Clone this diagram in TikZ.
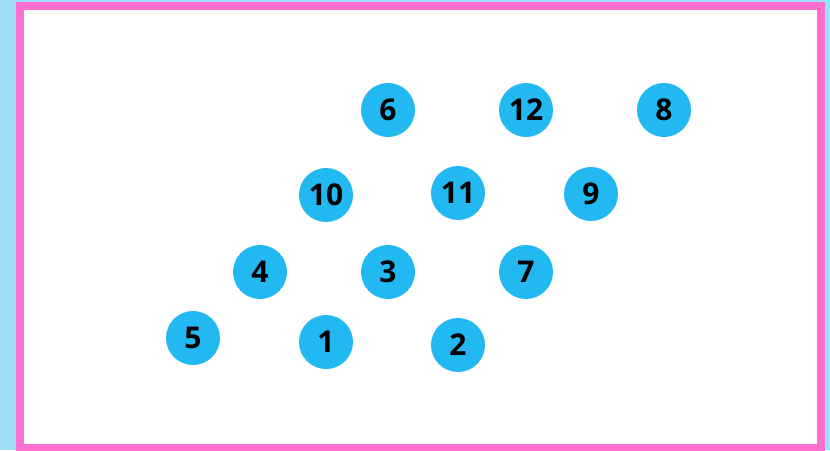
\documentclass[tikz,border=0pt]{standalone}
\usepackage{fontspec}
\setmainfont{Open Sans}
\definecolor{skyback}{HTML}{9EDFF8}
\definecolor{pinkframe}{HTML}{FF6FCF}
\definecolor{dotblue}{HTML}{22B8F2}

\begin{document}
\begin{tikzpicture}[x=1pt,y=-1pt,
  dot/.style={circle,fill=dotblue,minimum size=54pt,inner sep=0pt,
    font=\fontsize{30}{30}\selectfont\bfseries}]
\fill[skyback] (0,0) rectangle (830,450);
\useasboundingbox (0,0) rectangle (830,450);
\draw[pinkframe,line width=8pt,fill=white] (20,6) rectangle (821,448);
% top row
\node[dot] (n6) at (388,110) {6};
\node[dot] (n12) at (526,110) {12};
\node[dot] (n8) at (664,110) {8};
% second row
\node[dot] (n10) at (326,195) {10};
\node[dot] (n11) at (458,193) {11};
\node[dot] (n9) at (591,194) {9};
% third row
\node[dot] (n4) at (260,272) {4};
\node[dot] (n3) at (388,272) {3};
\node[dot] (n7) at (526,272) {7};
% bottom row
\node[dot] (n5) at (193,338) {5};
\node[dot] (n1) at (326,342) {1};
\node[dot] (n2) at (458,345) {2};
\end{tikzpicture}
\end{document}
